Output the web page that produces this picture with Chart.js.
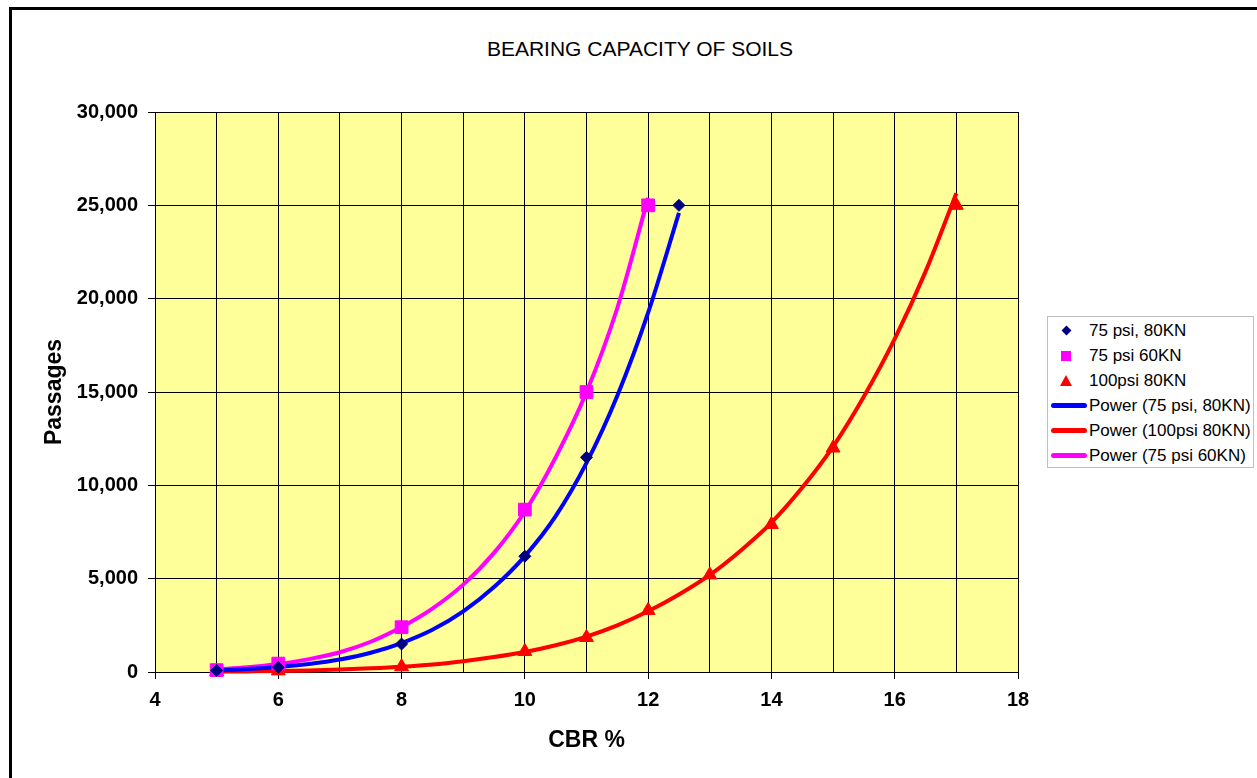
<!DOCTYPE html>
<html>
<head>
<meta charset="utf-8">
<script src="https://cdn.jsdelivr.net/npm/chart.js@4.4.1/dist/chart.umd.min.js"></script>
<style>
body{margin:0;background:#fff;font-family:"Liberation Sans",Arial,sans-serif;}
#wrap{position:relative;width:1257px;height:778px;overflow:hidden;}
#frame{position:absolute;left:9px;top:7px;width:1300px;height:800px;border-top:3px solid #000;border-left:3px solid #000;}
#title{position:absolute;left:0;top:37px;width:1280px;text-align:center;font-size:21px;color:#000;}
canvas{position:absolute;left:0;top:0;}
#legend{position:absolute;left:1047px;top:316px;width:207px;height:152px;border:1px solid #c0c0c0;box-sizing:border-box;background:#fff;font-size:17px;padding-top:1px;}
.row{height:25px;position:relative;line-height:25px;padding-left:41px;white-space:nowrap;color:#000;}
.ico{position:absolute;}
</style>
</head>
<body>
<div id="wrap">
  <div id="frame"></div>
  <div id="title">BEARING CAPACITY OF SOILS</div>
  <canvas id="grafico" width="1257" height="778"></canvas>
  <div id="legend"></div>
</div>
<script>
// valores (CBR % x passagens)
const cbr80 = [5, 6, 8, 10, 11, 12.5];
const passes80 = [80, 250, 1500, 6200, 11500, 25000];

const cbr60 = [5, 6, 8, 10, 11, 12];
const passes60 = [100, 450, 2400, 8700, 15000, 25000];

const cbr100 = [5, 6, 8, 10, 11, 12, 13, 14, 15, 17];
const passes100 = [30, 60, 280, 1100, 1850, 3300, 5200, 7900, 12000, 25000];

// linhas de tendência (potência), lidas ao longo da curva a cada 0,5
const trendCbr80 = [5, 5.5, 6, 6.5, 7, 7.5, 8, 8.5, 9, 9.5, 10, 10.5, 11, 11.5, 12, 12.5];
const trend80 = [90, 160, 265, 430, 670, 1030, 1550, 2260, 3250, 4550, 6210, 8350, 11200, 14800, 19250, 24600];

const trendCbr60 = [5, 5.5, 6, 6.5, 7, 7.5, 8, 8.5, 9, 9.5, 10, 10.5, 11, 11.5, 12];
const trend60 = [145, 255, 430, 690, 1060, 1620, 2410, 3400, 4680, 6380, 8600, 11500, 15000, 19500, 25400];

const trendCbr100 = [5, 5.5, 6, 6.5, 7, 7.5, 8, 8.5, 9, 9.5, 10, 10.5, 11, 11.5, 12,
  12.5, 13, 13.5, 14, 14.5, 15, 15.5, 16, 16.5, 17];
const trend100 = [20, 32, 50, 85, 130, 195, 280, 400, 580, 800, 1070, 1430, 1900, 2500, 3250,
  4150, 5200, 6500, 8000, 9880, 12080, 14760, 17850, 21450, 25650];

const xTicks = [4, 18];
const yTicks = [0, 30000, 5000];

const seriesLabels = ['75 psi, 80KN', '75 psi 60KN', '100psi 80KN',
  'Power (75 psi, 80KN)', 'Power (100psi 80KN)', 'Power (75 psi 60KN)'];

function pares(xs, ys) {
  return xs.map((x, i) => ({x: x, y: ys[i]}));
}

const fundo = {
  id: 'fundo',
  beforeDraw(chart) {
    const {ctx, chartArea: a} = chart;
    ctx.save();
    ctx.fillStyle = '#ffff99';
    ctx.fillRect(a.left, a.top, a.right - a.left, a.bottom - a.top);
    ctx.restore();
  }
};

const fonte = 'Liberation Sans, Arial, sans-serif';

const ctx = document.querySelector('#grafico').getContext('2d');
const grafico = new Chart(ctx, {
  type: 'scatter',
  data: {
    datasets: [
      {
        label: seriesLabels[0],
        data: pares(cbr80, passes80),
        showLine: false,
        pointStyle: 'rectRot',
        pointRadius: 6,
        backgroundColor: '#000080',
        borderColor: '#000080',
        borderWidth: 1,
        clip: false
      },
      {
        label: seriesLabels[1],
        data: pares(cbr60, passes60),
        showLine: false,
        pointStyle: 'rect',
        pointRadius: 9,
        backgroundColor: '#ff00ff',
        borderColor: '#ff00ff',
        borderWidth: 1,
        clip: false
      },
      {
        label: seriesLabels[2],
        data: pares(cbr100, passes100),
        showLine: false,
        pointStyle: 'triangle',
        pointRadius: 8,
        backgroundColor: '#ff0000',
        borderColor: '#ff0000',
        borderWidth: 1,
        clip: false
      },
      {
        label: seriesLabels[3],
        data: pares(trendCbr80, trend80),
        showLine: true,
        pointRadius: 0,
        borderColor: '#0000ff',
        borderWidth: 4,
        cubicInterpolationMode: 'monotone',
        clip: false
      },
      {
        label: seriesLabels[4],
        data: pares(trendCbr100, trend100),
        showLine: true,
        pointRadius: 0,
        borderColor: '#ff0000',
        borderWidth: 4,
        cubicInterpolationMode: 'monotone',
        clip: false
      },
      {
        label: seriesLabels[5],
        data: pares(trendCbr60, trend60),
        showLine: true,
        pointRadius: 0,
        borderColor: '#ff00ff',
        borderWidth: 4,
        cubicInterpolationMode: 'monotone',
        clip: false
      }
    ]
  },
  options: {
    responsive: false,
    animation: false,
    layout: {padding: {left: 0, right: 239, top: 112, bottom: 0}},
    plugins: {
      legend: {display: false},
      title: {display: false},
      tooltip: {enabled: false}
    },
    scales: {
      x: {
        type: 'linear',
        min: xTicks[0],
        max: xTicks[1],
        afterFit(scale) { scale.height = 106; },
        ticks: {
          stepSize: 1,
          autoSkip: false,
          maxRotation: 0,
          padding: 9,
          color: '#000',
          font: {family: fonte, size: 20, weight: 'bold'},
          callback: v => (v % 2 === 0 ? v : '')
        },
        grid: {
          color: '#000',
          lineWidth: 1,
          tickLength: 7,
          tickColor: c => (c.tick && c.tick.value % 2 === 0 ? '#000' : 'rgba(0,0,0,0)')
        },
        border: {color: '#000', width: 1},
        title: {
          display: true,
          text: 'CBR %',
          color: '#000',
          font: {family: fonte, size: 23, weight: 'bold'},
          padding: {bottom: 24}
        }
      },
      y: {
        min: yTicks[0],
        max: yTicks[1],
        afterFit(scale) { scale.width = 155; },
        ticks: {
          stepSize: yTicks[2],
          padding: 10,
          color: '#000',
          font: {family: fonte, size: 20, weight: 'bold'},
          callback: v => v.toLocaleString('en-US')
        },
        grid: {color: '#000', lineWidth: 1, tickLength: 7, tickColor: '#000'},
        border: {color: '#000', width: 1},
        title: {
          display: true,
          text: 'Passages',
          color: '#000',
          font: {family: fonte, size: 23, weight: 'bold'},
          padding: {top: 41}
        }
      }
    }
  },
  plugins: [fundo]
});

// legenda em HTML, montada a partir dos datasets
const legenda = document.querySelector('#legend');
grafico.data.datasets.forEach(ds => {
  const row = document.createElement('div');
  row.className = 'row';
  const ico = document.createElement('div');
  ico.className = 'ico';
  if (ds.showLine) {
    Object.assign(ico.style, {left: '3px', top: '10px', width: '36px', height: '5px',
      borderRadius: '3px', background: ds.borderColor});
  } else if (ds.pointStyle === 'rectRot') {
    Object.assign(ico.style, {left: '15px', top: '9px', width: '7px', height: '7px',
      transform: 'rotate(45deg)', background: ds.backgroundColor});
  } else if (ds.pointStyle === 'rect') {
    Object.assign(ico.style, {left: '13px', top: '8px', width: '10px', height: '10px',
      background: ds.backgroundColor});
  } else {
    Object.assign(ico.style, {left: '12px', top: '7px', width: '0', height: '0',
      borderLeft: '6px solid transparent', borderRight: '6px solid transparent',
      borderBottom: '11px solid ' + ds.backgroundColor});
  }
  row.appendChild(ico);
  row.appendChild(document.createTextNode(ds.label));
  legenda.appendChild(row);
});
</script>
</body>
</html>
